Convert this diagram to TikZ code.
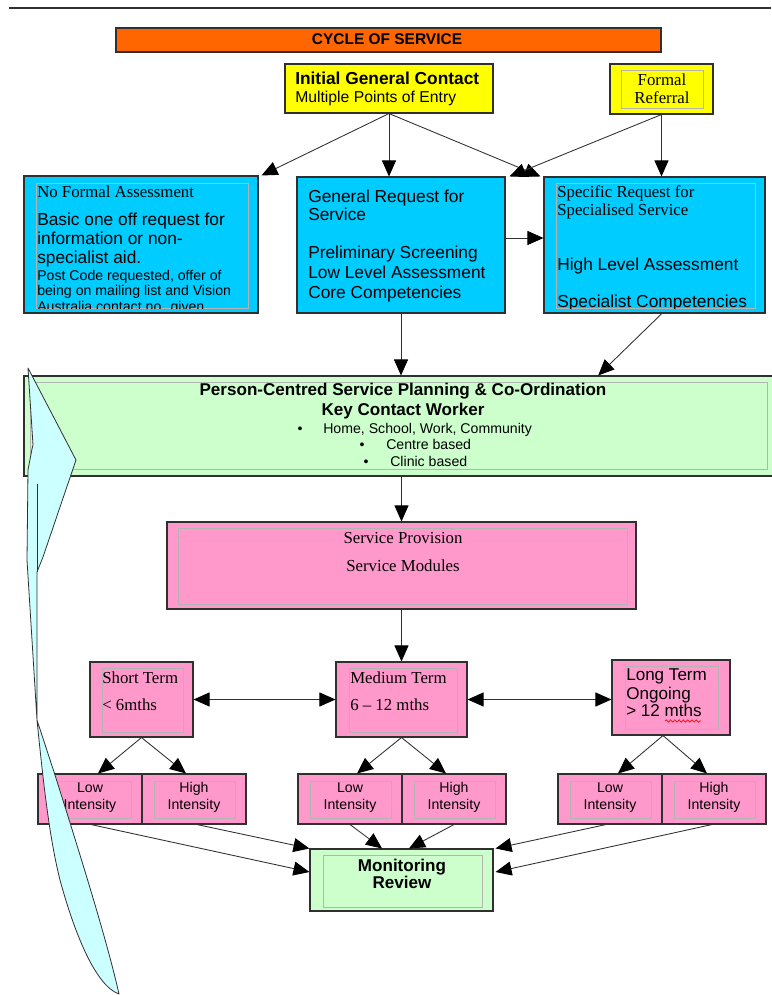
\documentclass[tikz,border=0pt]{standalone}
\usepackage{fontspec}
\setmainfont{Liberation Serif}
\setsansfont{Liberation Sans}
\usetikzlibrary{arrows.meta,fit,calc,decorations.pathmorphing}

\definecolor{orangefill}{HTML}{FF6600}
\definecolor{yellowfill}{HTML}{FFFF00}
\definecolor{bluefill}{HTML}{00CCFF}
\definecolor{greenfill}{HTML}{CCFFCC}
\definecolor{pinkfill}{HTML}{FF99CC}
\definecolor{cyanfill}{HTML}{CCFFFF}
\definecolor{innergray}{HTML}{B4B4B4}
\definecolor{lineclr}{HTML}{303030}

\tikzset{
  box/.style={draw=lineclr, line width=0.8pt, inner sep=0pt},
  bluebox/.style={box, fill=bluefill},
  yellowbox/.style={box, fill=yellowfill},
  pinkbox/.style={box, fill=pinkfill},
  greenbox/.style={box, fill=greenfill},
  innerbox/.style={draw=innergray, line width=0.6pt},
  headtip/.tip={Triangle[length=12pt,width=10.5pt,color=black]},
  conn/.style={draw=lineclr, line width=0.65pt, -headtip},
  biconn/.style={draw=lineclr, line width=0.65pt, headtip-headtip},
  txt/.style={inner sep=0pt, anchor=base west},
  ctxt/.style={inner sep=0pt, anchor=base},
  sansbig/.style={font=\sffamily\fontsize{13}{15}\selectfont},
  sansbold/.style={font=\sffamily\bfseries\fontsize{12.8}{15}\selectfont},
  sanssmall/.style={font=\sffamily\fontsize{10.6}{12}\selectfont},
  serifmid/.style={font=\rmfamily\fontsize{12.6}{15}\selectfont},
  sanslong/.style={font=\sffamily\fontsize{12.8}{15}\selectfont},
}

\begin{document}
\begin{tikzpicture}[x=0.75pt,y=-0.75pt]
\useasboundingbox (0,0) rectangle (771,995);

% top rule
\draw[lineclr, line width=1.3pt] (9,8) -- (771,8);

% title bar
\node[box, fill=orangefill, fit={(116,28)(661,52)}] (title) {};
\node[ctxt, font=\sffamily\bfseries\fontsize{11.6}{13}\selectfont] (titletxt) at (387,45) {CYCLE OF SERVICE};

% entry points
\node[yellowbox, fit={(285,64)(493,113)}] (igc) {};
\node[txt, font=\sffamily\bfseries\fontsize{13}{15}\selectfont] (igc1) at (295,85) {Initial General Contact};
\node[txt, font=\sffamily\fontsize{11.8}{14}\selectfont] (igc2) at (295,103) {Multiple Points of Entry};

\node[yellowbox, fit={(610,64)(713,114)}] (fr) {};
\draw[innerbox] (621,70) rectangle (703,108);
\node[ctxt, serifmid] (fr1) at (662,86) {Formal};
\node[ctxt, serifmid] (fr2) at (662,104) {Referral};

% request boxes
\node[bluebox, fit={(24,176)(258,313)}] (nofa) {};
\draw[innerbox] (36,183) rectangle (248,308);
\begin{scope}
  \clip (36,183) rectangle (248,308);
  \node[txt, serifmid] (n1) at (37,197) {No Formal Assessment};
  \node[txt, sansbig] (n2) at (37,225) {Basic one off request for};
  \node[txt, sansbig] (n3) at (37,244) {information or non-};
  \node[txt, sansbig] (n4) at (37,263) {specialist aid.};
  \node[txt, sanssmall] (n5) at (37,280) {Post Code requested, offer of};
  \node[txt, sanssmall] (n6) at (37,295) {being on mailing list and Vision};
  \node[txt, sanssmall] (n7) at (37,311) {Australia contact no. given};
\end{scope}

\node[bluebox, fit={(297,177)(505,313)}] (gen) {};
\node[txt, sansbig] (g1) at (308,202) {General Request for};
\node[txt, sansbig] (g2) at (308,220) {Service};
\node[txt, sansbig] (g3) at (308,258) {Preliminary Screening};
\node[txt, sansbig] (g4) at (308,278) {Low Level Assessment};
\node[txt, sansbig] (g5) at (308,298) {Core Competencies};

\node[bluebox, fit={(544,177)(765,313)}] (spec) {};
\draw[innerbox] (556,183) rectangle (755,308);
\begin{scope}
  \clip (556,183) rectangle (755,308);
  \node[txt, serifmid] (s1) at (557,197) {Specific Request for};
  \node[txt, serifmid] (s2) at (557,215) {Specialised Service};
  \node[txt, sansbig] (s3) at (557,270) {High Level Assessment};
  \node[txt, sansbig] (s4) at (557,307) {Specialist Competencies};
\end{scope}

% planning and co-ordination
\node[greenbox, fit={(24,376)(775,476)}] (pcsp) {};
\draw[innerbox] (30,382) rectangle (767,469);
\node[ctxt, sansbold] (p1) at (403,395) {Person-Centred Service Planning \& Co-Ordination};
\node[ctxt, sansbold] (p2) at (403,415) {Key Contact Worker};
\node[ctxt, sanssmall] (b1) at (300,433) {•};
\node[txt, sanssmall] (p3) at (323,433) {Home, School, Work, Community};
\node[ctxt, sanssmall] (b2) at (362,449) {•};
\node[txt, sanssmall] (p4) at (386,449) {Centre based};
\node[ctxt, sanssmall] (b3) at (366,466) {•};
\node[txt, sanssmall] (p5) at (390,466) {Clinic based};

% service provision
\node[pinkbox, fit={(167,522)(636,609)}] (sp) {};
\draw[innerbox] (178,528) rectangle (627,604);
\node[ctxt, serifmid] (sp1) at (403,543) {Service Provision};
\node[ctxt, serifmid] (sp2) at (403,571) {Service Modules};

% terms
\node[pinkbox, fit={(90,662)(193,737)}] (st) {};
\draw[innerbox] (102,668) rectangle (183,732);
\node[txt, serifmid] (st1) at (102,683) {Short Term};
\node[txt, serifmid] (st2) at (102,710) {< 6mths};

\node[pinkbox, fit={(336,662)(467,737)}] (mt) {};
\draw[innerbox] (349,668) rectangle (457,732);
\node[txt, serifmid] (mt1) at (350,683) {Medium Term};
\node[txt, serifmid] (mt2) at (350,710) {6 – 12 mths};

\node[pinkbox, fit={(612,660)(730,735)}] (lt) {};
\draw[innerbox] (625,666) rectangle (718,729);
\node[txt, sanslong] (lt1) at (626,680) {Long Term};
\node[txt, sanslong] (lt2) at (626,699) {Ongoing};
\node[txt, sanslong] (lt3) at (626,716) {> 12 mths};
\draw[red, line width=0.5pt, decorate, decoration={snake, amplitude=0.9pt, segment length=3.2pt}] (665,721) -- (701,721);

% intensity boxes
\foreach \nm/\xa/\xb/\lbl in {sl/38/142/Low, sh/142/246/High, ml/298/402/Low, mh/402/506/High, ll/558/662/Low, lh/662/766/High}{
  \node[pinkbox, fit={(\xa,774)(\xb,824)}] (\nm) {};
  \draw[innerbox] (\xa+12,781) rectangle (\xb-11,818);
  \node[ctxt, sanssmall] (\nm-a) at ($(\xa,792)!0.5!(\xb,792)$) {\lbl};
  \node[ctxt, sanssmall] (\nm-b) at ($(\xa,809)!0.5!(\xb,809)$) {Intensity};
}

% monitoring
\node[greenbox, fit={(310,849)(493,911)}] (mr) {};
\draw[innerbox] (323,855) rectangle (482,907);
\node[ctxt, sansbold] (mr1) at (402,871) {Monitoring};
\node[ctxt, sansbold] (mr2) at (402,888) {Review};

% connectors
\draw[conn] (igc.south) -- ([xshift=2.25pt]nofa.north east);
\draw[conn] (igc.south) -- (igc.south |- gen.north);
\draw[conn] (igc.south) -- ([xshift=-2.25pt]spec.north west);
\draw[conn] (fr.south) -- (fr.south |- spec.north);
\draw[conn] (fr.south) -- ([xshift=3pt]gen.north east);
\draw[conn] ([yshift=5.25pt]gen.east) -- ([yshift=5.25pt]spec.west);
\draw[conn] (gen.south) -- (gen.south |- pcsp.north);
\draw[conn] ([xshift=5.5pt]spec.south) -- ([xshift=149pt]pcsp.north);
\draw[conn] (sp.north |- pcsp.south) -- (sp.north);
\draw[conn] (sp.south) -- (mt.north);
\draw[biconn] (st.east) -- (mt.west);
\draw[biconn] (mt.east) -- (mt.east -| lt.west);
\draw[conn] (st.south) -- ([xshift=6pt]sl.north);
\draw[conn] (st.south) -- ([xshift=-6pt]sh.north);
\draw[conn] (mt.south) -- ([xshift=5.25pt]ml.north);
\draw[conn] (mt.south) -- ([xshift=-6pt]mh.north);
\draw[conn] ([xshift=-6pt]lt.south) -- ([xshift=6pt]ll.north);
\draw[conn] ([xshift=-6pt]lt.south) -- ([xshift=-5.25pt]lh.north);
\draw[conn] ([xshift=0.75pt]sl.south) -- ([yshift=6pt]mr.west);
\draw[conn] ([xshift=2.25pt]sh.south) -- (mr.north west);
\draw[conn] (ml.south) -- ([xshift=-14.6pt]mr.north);
\draw[conn] (mh.south) -- ([xshift=5.6pt]mr.north);
\draw[conn] ([xshift=-3pt]ll.south) -- ([xshift=1.5pt]mr.north east);
\draw[conn] ([xshift=-1.5pt]lh.south) -- ([xshift=1.5pt,yshift=6pt]mr.east);

% return arrow back up to planning
\draw[draw=lineclr, line width=0.6pt, fill=cyanfill, line join=round]
  (28,368) -- (76,460) -- (43,557) -- (37,572) -- (37,720) -- (55,775)
  .. controls (85,870) and (108,945) .. (119,994)
  .. controls (96,986) and (75,935) .. (60,880)
  .. controls (50,840) and (44,790) .. (37,720)
  -- (27,560) -- (28,470) -- (32,449) -- (33,445) -- cycle;
\draw[lineclr, line width=0.6pt] (37,484) -- (37,572);
\end{tikzpicture}
\end{document}
